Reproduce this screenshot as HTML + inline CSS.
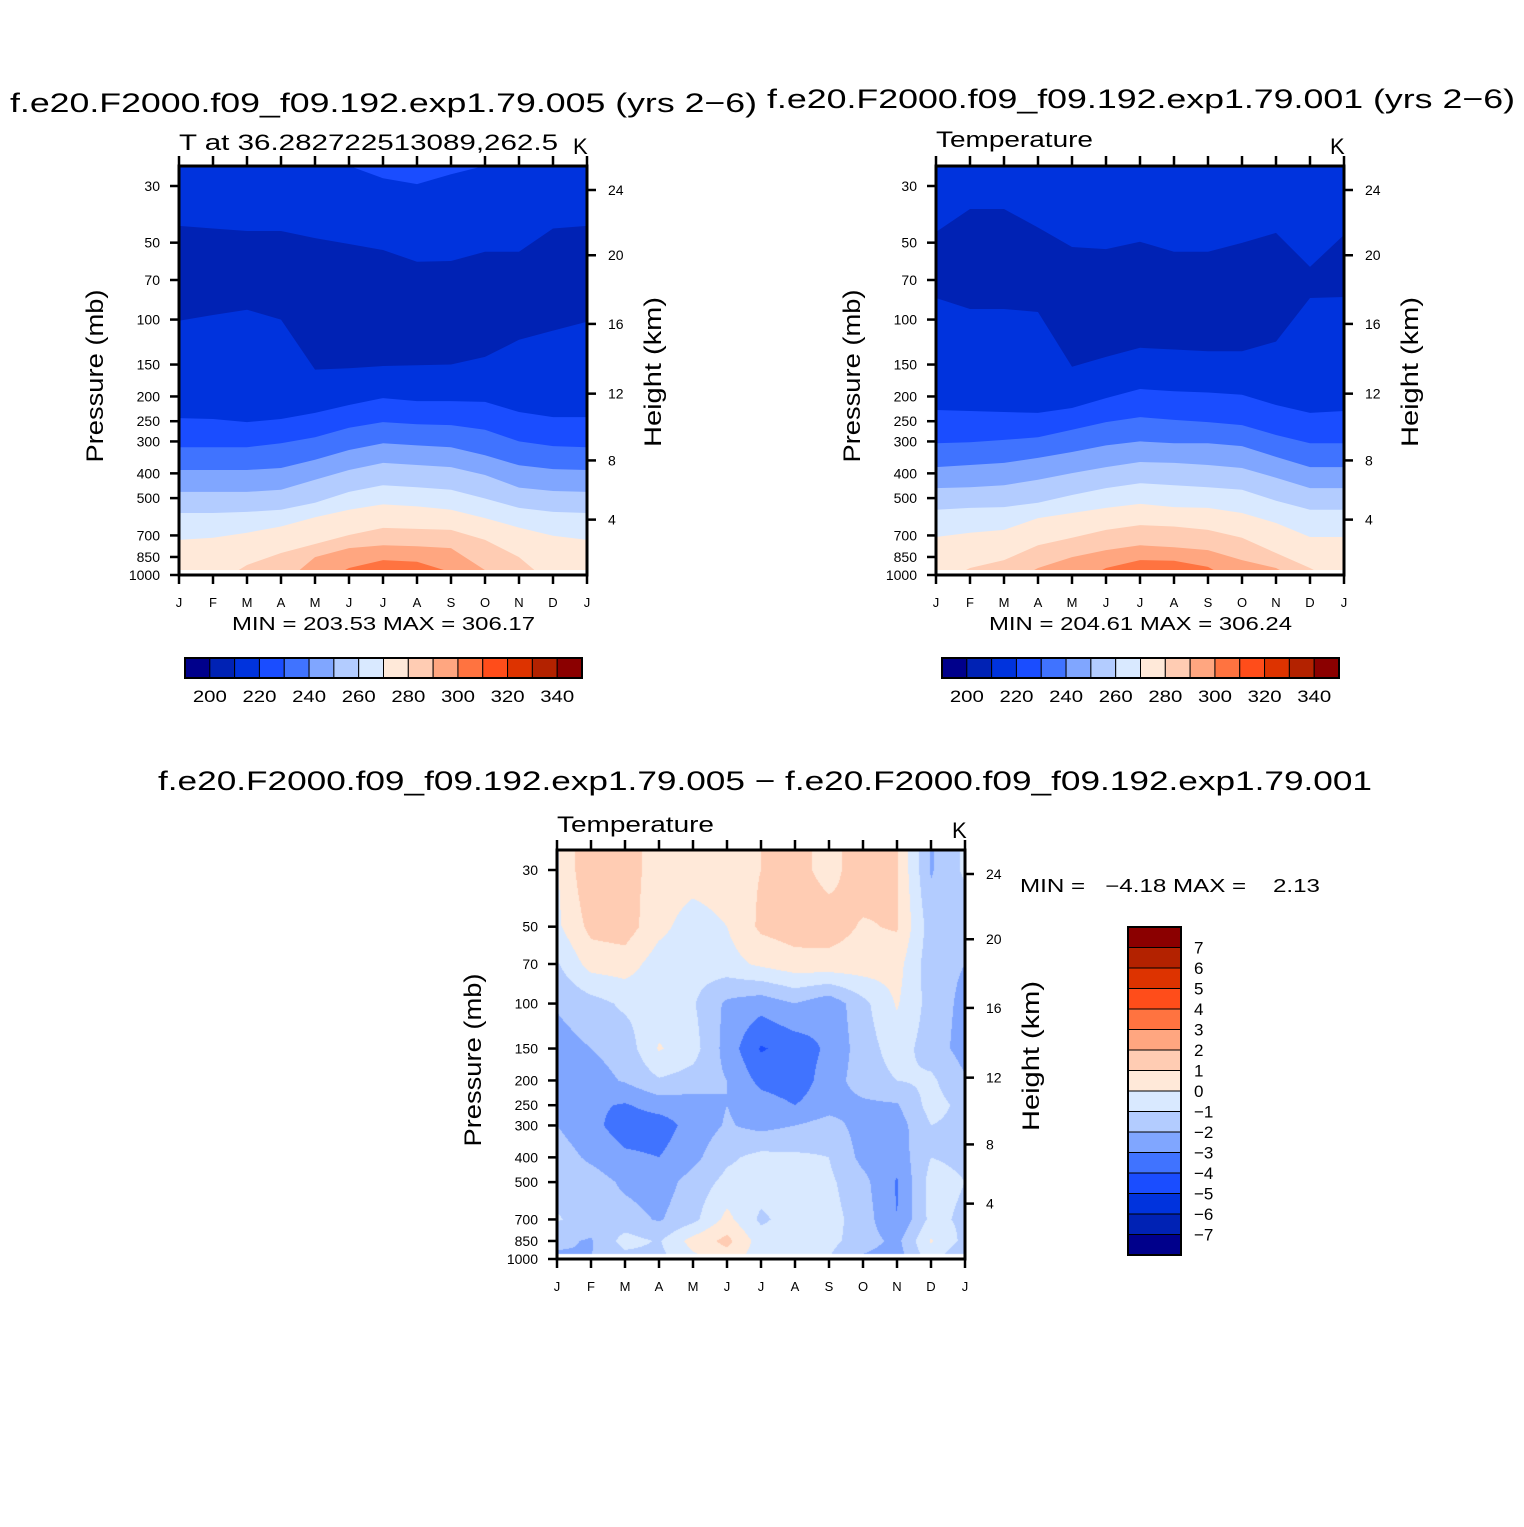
<!DOCTYPE html>
<html><head><meta charset="utf-8">
<style>
html,body{margin:0;padding:0;background:#fff;}
body{width:1524px;height:1527px;position:relative;overflow:hidden;font-family:"Liberation Sans",sans-serif;}
svg{position:absolute;left:0;top:0;}
#c3{position:absolute;left:557px;top:850px;}
</style></head>
<body>
<canvas id="c3" width="408" height="409"></canvas>
<svg id="s" width="1524" height="1527" xmlns="http://www.w3.org/2000/svg"></svg>
<script>
// ---------- data ----------
const months = ["J","F","M","A","M","J","J","A","S","O","N","D","J"];
const pressureTicks = [30,50,70,100,150,200,250,300,400,500,700,850,1000];
const heightTicks = [24,20,16,12,8,4];
const heightTickP = [31.1,56,104,195,356,607];
const cbLabelsT = [200,220,240,260,280,300,320,340];
const cbLabelsD = [7,6,5,4,3,2,1,0,-1,-2,-3,-4,-5,-6,-7];
const colors = ["#00008b","#0022b4","#0033dd","#1a4dff","#4073ff","#80a6ff","#b3ccff","#d9e9ff","#ffe9d9","#ffccb3","#ffa680","#ff7340","#ff4d1a","#dd3300","#b32200","#8b0000"];
// panel 1 contour boundaries (pressure, hPa) per month, top->bottom
const p1b0 = [25,25,25,25,25,25,28,29.5,27,25,25,25,25];
const p1b1 = [43,44,45,45,48,50.6,53.4,59.4,59,54.3,54.3,44,43];
const p1b2 = [101,96,91.5,100,157,155,152,151,150,140,120,110.5,102];
const p1b3 = [243,245,252,245,232,216,203,208.5,208.5,210,230,241,241];
const p1b4 = [316,316,316,305,289,265,252,257,259,270,300,313,316];
const p1b5 = [388,388,388,381,354,324,305,311,316,340,372,385,388];
const p1b6 = [473,473,473,464,424,388,364,371,378,406,455,469,473];
const p1b7 = [572,572,566,555,521,473,445,453,464,502,546,566,572];
const p1b8 = [729,715,683,646,594,555,529,539,555,599,652,702,729];
const p1b9 = [1100,1100,914,820,756,697,654,660,666,729,851,1100,1100];
const p1b10 = [1100,1100,1100,1100,851,785,765,772,785,957,1100,1100,1100];
const p1b11 = [1100,1100,1100,1100,1100,939,874,887,975,1100,1100,1100,1100];
// panel 2
const p2b1 = [45.4,36.9,36.9,43.6,52,53,49.6,54.3,54.3,50.1,45.8,62.2,46.6];
const p2b2 = [82.3,90.9,90.9,93.4,153,140,129,131,133,133,122,82.3,81.6];
const p2b3 = [226,228,230,232,222,203,187,191,193,197,216,232,228];
const p2b4 = [305,302,296,289,270,252,241,247,252,259,283,305,305];
const p2b5 = [378,371,364,348,330,311,300,305,305,313,345,378,378];
const p2b6 = [457,453,445,424,399,378,361,364,371,381,416,457,457];
const p2b7 = [555,546,542,521,486,457,437,445,453,464,512,555,555];
const p2b8 = [710,683,666,599,572,546,527,542,546,572,626,710,710];
const p2b9 = [1100,939,874,765,715,666,638,646,666,715,820,939,1100];
const p2b10 = [1100,1100,1100,939,851,799,765,779,799,874,939,1100,1100];
const p2b11 = [1100,1100,1100,1100,1100,939,874,880,930,1100,1100,1100,1100];
// panel 3 difference grid (K), rows = pressureTicks, cols = months
const d30  = [-0.1,1.95,1.4,0.6,0.5,0.6,1.0,1.3,0.7,1.5,1.05,-2.1,-0.8];
const d50  = [-0.2,1.3,1.5,0.3,-0.5,0.0,1.2,1.5,1.4,0.9,1.1,-1.5,-1.8];
const d70  = [-1.1,0.4,0.5,-0.5,-0.6,-0.4,0.2,0.6,0.7,0.6,0.4,-1.6,-2.0];
const d100 = [-1.9,-1.4,-0.8,-0.6,-0.9,-2.2,-2.6,-2.0,-2.7,-1.3,0.1,-1.4,-2.3];
const d150 = [-2.4,-2.0,-1.6,0.1,-0.6,-2.4,-4.1,-3.6,-2.8,-1.5,-0.5,-1.5,-2.4];
const d200 = [-2.6,-2.4,-1.9,-1.1,-1.4,-2.0,-3.3,-3.6,-2.5,-1.5,-1.0,-0.8,-1.9];
const d250 = [-2.7,-2.8,-3.1,-2.6,-2.5,-2.0,-2.5,-3.0,-2.4,-2.2,-2.1,-0.6,-1.3];
const d300 = [-2.0,-2.7,-3.5,-3.5,-2.6,-1.9,-2.3,-2.0,-1.6,-2.4,-2.5,-1.0,-1.3];
const d400 = [-1.5,-2.2,-2.8,-3.0,-2.3,-1.2,-0.7,-0.8,-1.0,-2.3,-2.6,-1.0,-1.2];
const d500 = [-1.4,-1.5,-2.2,-2.5,-1.6,-0.7,-0.5,-0.5,-0.8,-1.7,-3.1,-0.6,-1.0];
const d700 = [-0.9,-1.5,-1.6,-2.1,-1.3,0.3,-1.2,-0.5,-0.6,-1.5,-3.0,-0.7,-1.2];
const d850 = [-1.8,-2.1,-0.6,-1.1,0.4,1.3,-0.5,-0.5,-0.7,-1.5,-2.3,0.1,-1.3];
const d1000= [-2.2,-2.0,-1.4,-1.3,-0.3,0.5,-0.6,-0.8,-1.0,-2.2,-2.5,-0.5,-2.2];
const diffGrid = [d30,d50,d70,d100,d150,d200,d250,d300,d400,d500,d700,d850,d1000];

// ---------- helpers ----------
const NS="http://www.w3.org/2000/svg";
const S=document.getElementById('s');
function mk(tag,attrs,parent){const e=document.createElementNS(NS,tag);for(const k in attrs)e.setAttribute(k,attrs[k]);(parent||S).appendChild(e);return e;}
function txt(x,y,t,size,anchor,parent,extra){const e=mk('text',Object.assign({x:x,y:y,'font-size':size,'text-anchor':anchor||'start','font-family':'Liberation Sans, sans-serif',fill:'#000'},extra||{}),parent);e.textContent=t;return e;}
function fit(len){return {textLength:len,lengthAdjust:'spacingAndGlyphs'};}
const SPAN=389, LR=Math.log(1000/30);
function yP(p,y30){return y30+Math.log(p/30)/LR*SPAN;}

function axes(x0,y0,w,h,y30,g){
  mk('rect',{x:x0,y:y0,width:w,height:h,fill:'none',stroke:'#000','stroke-width':3},g);
  const dx=w/12;
  months.forEach((m,i)=>{
    const x=x0+i*dx;
    mk('line',{x1:x,y1:y0,x2:x,y2:y0-10,stroke:'#000','stroke-width':2.5},g);
    mk('line',{x1:x,y1:y0+h,x2:x,y2:y0+h+9,stroke:'#000','stroke-width':2.5},g);
    const t=txt(x,y0+h+32,m,13,'middle',g);
    
    
  });
  pressureTicks.forEach(p=>{
    const y=yP(p,y30);
    mk('line',{x1:x0-9,y1:y,x2:x0,y2:y,stroke:'#000','stroke-width':2.5},g);
    const t=txt(x0-19,y+5,String(p),14,'end',g);
    
    
  });
  heightTicks.forEach((hk,i)=>{
    const y=yP(heightTickP[i],y30);
    mk('line',{x1:x0+w,y1:y,x2:x0+w+9,y2:y,stroke:'#000','stroke-width':2.5},g);
    const t=txt(x0+w+21,y+5,String(hk),14,'start',g);
    
    
  });
  const yc=y30+190;
  const a=txt(0,0,'Pressure (mb)',24,'middle',g,Object.assign({transform:`translate(${x0-76},${y30+190}) rotate(-90)`},fit(173)));
  
  
  const b=txt(0,0,'Height (km)',24,'middle',g,Object.assign({transform:`translate(${x0+w+74},${y30+186}) rotate(-90)`},fit(150)));
  
  
}

function contourPanel(x0,y0,w,h,y30,bounds,cols,name){
  const g=mk('g',{});
  
  
  const cid='clip'+name;
  const cp=mk('clipPath',{id:cid},g);
  mk('rect',{x:x0,y:y0,width:w,height:h-5},cp);
  const fg=mk('g',{'clip-path':`url(#${cid})`},g);
  mk('rect',{x:x0,y:y0,width:w,height:h,fill:colors[cols[0]]},fg);
  const dx=w/12;
  bounds.forEach((b,k)=>{
    let pts=b.map((p,i)=>`${(x0+i*dx).toFixed(1)},${yP(p,y30).toFixed(1)}`);
    pts.push(`${x0+w},${y0+h+20}`);pts.push(`${x0},${y0+h+20}`);
    const poly=mk('polygon',{points:pts.join(' '),fill:colors[cols[k+1]]},fg);
    
    
  });
  axes(x0,y0,w,h,y30,g);
  return g;
}

function hColorbar(x0,y0,w,h){
  const g=mk('g',{});
  
  
  const bw=w/16;
  colors.forEach((c,i)=>{
    const r=mk('rect',{x:x0+i*bw,y:y0,width:bw,height:h,fill:c,stroke:'#000','stroke-width':1},g);
    
    
  });
  mk('rect',{x:x0,y:y0,width:w,height:h,fill:'none',stroke:'#000','stroke-width':2},g);
  cbLabelsT.forEach((l,i)=>{
    const t=txt(x0+(2*i+1)*bw,y0+44,String(l),17,'middle',g,fit(34));
    
    
  });
}

const colsP = [3,2,1,2,3,4,5,6,7,8,9,10,11];
contourPanel(179,166,408,409,186,[p1b0,p1b1,p1b2,p1b3,p1b4,p1b5,p1b6,p1b7,p1b8,p1b9,p1b10,p1b11],colsP,'panel-1');
contourPanel(936,166,408,409,186,[p1b0.map(()=>25),p2b1,p2b2,p2b3,p2b4,p2b5,p2b6,p2b7,p2b8,p2b9,p2b10,p2b11],[2,2,1,2,3,4,5,6,7,8,9,10,11],'panel-2');
hColorbar(185,658,397,20);
hColorbar(942,658,397,20);

let t;
t=txt(10,112,'f.e20.F2000.f09_f09.192.exp1.79.005 (yrs 2\u22126)',27,'start',S,fit(747));

t=txt(767,108,'f.e20.F2000.f09_f09.192.exp1.79.001 (yrs 2\u22126)',27,'start',S,fit(748));

t=txt(179,150,'T at 36.282722513089,262.5',22,'start',S,fit(379));

t=txt(573,154,'K',22,'start');

t=txt(936,147,'Temperature',22,'start',S,fit(157));

t=txt(1330,154,'K',22,'start');

t=txt(232,630,'MIN = 203.53  MAX = 306.17',18,'start',S,fit(303));

t=txt(989,630,'MIN = 204.61  MAX = 306.24',18,'start',S,fit(303));


// ---------- panel 3 ----------
(function(){
  const cv=document.getElementById('c3');const ctx=cv.getContext('2d');
  const W=408,H=409;
  const lp=pressureTicks.map(p=>Math.log(p));
  const img=ctx.createImageData(W,H);
  const rgb=colors.map(c=>[parseInt(c.slice(1,3),16),parseInt(c.slice(3,5),16),parseInt(c.slice(5,7),16)]);
  for(let y=0;y<H;y++){
    const py=850+y+0.5;
    const l=Math.log(30)+(py-870)/SPAN*LR;
    let r=0;while(r<lp.length-2&&l>lp[r+1])r++;
    let fy=(l-lp[r])/(lp[r+1]-lp[r]);fy=Math.max(0,Math.min(1,fy));
    for(let x=0;x<W;x++){
      const fm=(x+0.5)/34;let c=Math.min(11,Math.floor(fm));const fx=fm-c;
      const v=(diffGrid[r][c]*(1-fx)+diffGrid[r][c+1]*fx)*(1-fy)+(diffGrid[r+1][c]*(1-fx)+diffGrid[r+1][c+1]*fx)*fy;
      const idx=Math.max(0,Math.min(15,Math.floor(v)+8));
      const o=(y*W+x)*4;const col=(y>=H-5)?[255,255,255]:rgb[idx];
      img.data[o]=col[0];img.data[o+1]=col[1];img.data[o+2]=col[2];img.data[o+3]=255;
    }
  }
  ctx.putImageData(img,0,0);
  const g=mk('g',{});
  
  
  axes(557,850,408,409,870,g);
})();
t=txt(158,790,'f.e20.F2000.f09_f09.192.exp1.79.005 \u2212 f.e20.F2000.f09_f09.192.exp1.79.001',27,'start',S,fit(1214));

t=txt(557,832,'Temperature',22,'start',S,fit(157));

t=txt(952,838,'K',22,'start');

t=txt(1020,892,'MIN =   \u22124.18 MAX =    2.13',18,'start',S,Object.assign({'style':'white-space:pre'},fit(300)));

(function(){
  const g=mk('g',{});
  
  
  const x0=1128,y0=927,w=53,h=328,bh=h/16;
  for(let i=0;i<16;i++){
    const r=mk('rect',{x:x0,y:y0+i*bh,width:w,height:bh,fill:colors[15-i],stroke:'#000','stroke-width':1},g);
    
    
  }
  mk('rect',{x:x0,y:y0,width:w,height:h,fill:'none',stroke:'#000','stroke-width':2},g);
  cbLabelsD.forEach((l,i)=>{
    const tt=txt(x0+w+13,y0+(i+1)*bh+6,(l<0?'\u2212':'')+Math.abs(l),17,'start',g);
    
    
  });
})();
</script>
</body></html>
